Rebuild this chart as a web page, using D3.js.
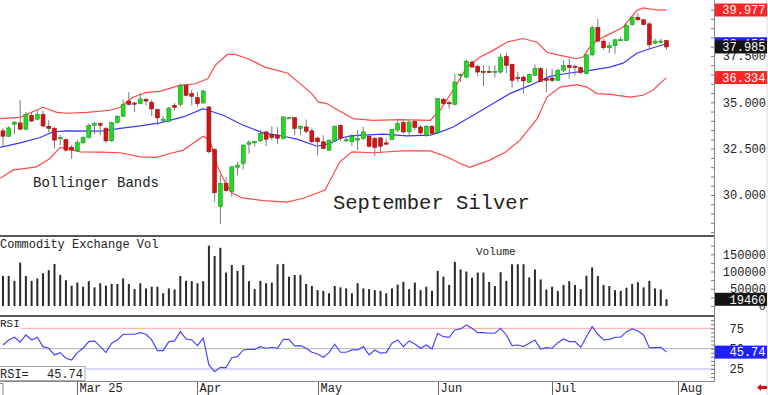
<!DOCTYPE html>
<html><head><meta charset="utf-8">
<script src="https://cdn.jsdelivr.net/npm/d3@7"></script>
<style>
body{margin:0;background:#fff;}
svg{display:block;}
text{font-family:"Liberation Mono","DejaVu Sans Mono",monospace;fill:#222;}
</style>
</head><body>
<svg id="chart" width="768" height="395"></svg>
<script>
// ---- data ----
const openP  = [33.46,33.17,33.82,33.89,33.55,34.30,34.09,34.35,33.71,33.59,33.03,32.99,32.58,32.38,32.81,33.10,33.76,33.85,33.59,32.92,
33.91,34.25,35.07,34.96,34.93,35.16,35.00,34.61,34.08,33.98,34.84,34.89,35.91,35.47,35.25,34.96,34.75,32.46,29.37,30.63,
30.18,31.49,31.70,32.74,32.81,32.92,33.40,33.26,33.24,33.05,34.14,34.18,33.59,33.67,33.46,33.07,32.87,32.42,32.92,33.76,
32.94,32.87,32.96,33.05,33.17,33.05,33.08,32.81,32.99,33.50,33.91,33.40,33.98,33.67,33.23,33.71,33.35,35.16,34.98,34.89,
36.45,36.36,37.17,36.94,36.67,36.67,36.66,36.63,37.47,37.04,36.34,36.36,36.09,36.45,36.81,36.27,36.31,36.18,36.72,36.99,
36.94,36.87,36.54,37.56,39.05,38.30,37.94,38.06,38.36,38.33,39.19,39.59,39.45,39.23,38.19,38.28,38.33];
const highP  = [33.60,33.71,33.98,35.11,34.48,34.48,34.57,34.57,34.03,33.67,33.23,33.05,32.69,32.99,33.17,33.85,33.94,33.94,33.67,33.94,
34.30,35.14,35.55,35.02,35.52,35.23,35.14,34.66,34.25,34.75,34.96,36.00,36.00,35.68,35.55,35.68,34.79,32.51,31.08,30.98,
31.56,31.79,32.74,32.96,32.92,33.50,33.46,33.71,33.67,34.25,34.21,34.21,33.76,34.07,33.59,33.13,33.23,32.99,33.75,33.80,
33.13,33.26,33.50,33.67,33.28,33.13,33.13,33.05,33.56,34.03,34.12,34.03,34.03,33.76,33.76,33.76,35.23,35.25,35.11,36.54,
36.57,37.30,37.26,37.04,36.99,36.99,36.99,37.62,37.65,37.08,36.63,36.45,36.54,37.04,36.90,36.81,36.81,36.81,37.26,37.35,
37.04,36.94,37.62,39.14,39.50,38.42,38.24,38.42,38.55,39.23,39.68,39.80,39.50,39.32,38.42,38.42,38.37];
const lowP   = [32.63,33.12,33.28,33.50,33.50,33.94,34.03,33.66,33.39,32.51,32.69,32.33,31.95,32.33,32.78,33.05,33.28,33.23,32.81,32.87,
33.85,34.21,34.84,34.48,34.89,34.84,34.25,33.76,33.98,33.94,34.57,34.78,35.32,34.84,34.78,34.93,32.24,29.64,28.44,30.18,
29.91,31.08,31.38,32.24,32.63,32.87,32.63,32.96,32.74,32.99,34.12,33.23,33.23,33.32,32.78,32.15,32.46,32.38,32.87,32.90,
32.87,32.63,32.42,32.96,32.56,32.10,32.24,32.69,32.96,33.40,33.32,33.23,33.50,33.26,33.13,33.23,33.28,34.84,34.66,34.84,
36.09,36.28,36.87,36.40,35.86,36.60,36.36,36.54,36.57,35.79,36.09,35.47,36.04,36.40,36.09,35.55,36.09,36.15,36.63,36.27,
36.45,36.51,36.51,37.47,38.24,37.83,37.65,37.62,38.30,38.30,39.14,39.37,39.14,37.83,38.12,38.16,37.83];
const closeP = [33.17,33.62,33.93,33.55,34.35,33.99,34.35,33.72,33.59,32.96,33.10,32.42,32.42,32.83,33.10,33.76,33.85,33.76,32.92,33.91,
34.25,34.88,34.88,34.93,35.18,35.07,34.64,34.16,34.09,34.69,34.73,35.91,35.38,35.32,34.93,35.61,32.33,30.12,30.63,30.23,
31.52,31.61,32.69,32.85,32.89,33.32,33.01,33.10,33.06,34.21,34.18,33.59,33.71,33.44,32.87,32.87,32.51,32.96,33.71,33.07,
32.98,33.17,33.05,33.40,32.63,32.56,32.63,32.74,33.53,33.85,33.40,33.94,33.64,33.35,33.71,33.32,35.20,34.93,34.93,36.09,
36.50,37.22,36.90,36.63,36.66,36.63,36.67,37.44,36.99,36.18,36.33,36.15,36.51,36.81,36.13,36.18,36.18,36.72,36.99,36.87,
36.90,36.60,37.56,39.02,38.30,37.94,38.06,38.37,38.38,39.14,39.59,39.45,39.19,38.10,38.30,38.30,37.985];
const volume = [87000,87000,73000,126000,87000,73000,80000,95000,104000,122000,90000,75000,59000,68000,56000,72000,54000,66000,59000,64000,
64000,80000,64000,49000,66000,51000,56000,56000,37000,51000,48000,87000,73000,72000,66000,72000,175000,145000,169000,97000,
119000,102000,119000,72000,49000,73000,66000,68000,121000,122000,85000,90000,90000,64000,58000,46000,44000,37000,58000,54000,
51000,37000,66000,51000,49000,46000,44000,37000,51000,62000,70000,49000,68000,46000,56000,44000,102000,85000,61000,128000,
106000,100000,82000,97000,97000,70000,58000,98000,73000,121000,121000,121000,83000,106000,77000,48000,56000,44000,61000,72000,
61000,49000,88000,112000,87000,61000,58000,46000,44000,53000,64000,69000,54000,73000,51000,48000,19460];
const rsi = [54.5,60.7,64,57.9,66.8,60.7,64,52.5,50.5,42.3,45.1,38.2,36.1,45.1,50.5,58.6,59.5,52.5,45.1,56.6,
60.7,67.7,67.7,67.7,69.7,67.7,60.7,47.5,47.5,58.6,59.5,70.9,61.9,60.7,53.7,62.8,30,21.7,27.1,26.7,
38.9,40.2,48.4,49.2,49.2,52.5,50.5,51.7,50.5,61.5,61.5,53.3,53.7,50.5,45.6,43.5,39.4,45.1,55.4,45.6,
45.6,48.4,48.4,52.5,42.3,48.4,44.5,45.1,56.6,60.7,52.5,59.5,55.8,50.5,54.5,49.6,68.9,64.7,64,73,
74.2,79.1,75,69.7,69.7,68.9,68.9,75,66.8,53.7,54.5,52.5,56.6,60.7,49.6,51.2,50.5,57.4,61.9,58.6,
58.6,51.7,64.7,77,67.7,60.7,61.5,64,64,70.9,74.2,71.7,66.8,51.2,51.2,51.7,45.74];
// Bollinger bands as [bar index, value] points
const upperBand = [[-0.5,34.12],[3,34.19],[7,34.73],[9.4,34.46],[11.2,34.41],[14.7,34.46],[18.7,34.57],[20.5,34.73],[22.7,35.27],[25.2,35.54],
[27.4,35.59],[30.9,35.91],[33.6,36.00],[35.8,36.27],[37.1,36.99],[39.2,37.58],[40.6,37.58],[42.8,37.35],[45.8,36.90],[49.8,36.57],
[51.6,36.09],[54.0,35.47],[55.1,35.02],[56.6,34.93],[58.9,34.52],[61.2,34.12],[64.7,34.03],[69.4,34.07],[74.7,34.03],[76.4,34.57],
[78.7,35.65],[81.1,36.90],[83.4,37.44],[85.7,37.80],[88.1,38.24],[90.9,38.44],[93.4,38.24],[95.1,37.70],[97.4,37.53],[100.3,37.35],
[101.4,37.44],[102.6,37.97],[103.8,38.33],[106.1,38.69],[108.4,39.05],[110.8,39.95],[111.9,40.09],[114.3,39.98],[116,39.977]];
const middleBand = [[-0.5,32.57],[3,32.81],[6.5,33.10],[8.7,33.40],[11.2,33.46],[17,33.44],[20.5,33.59],[24,33.73],[27.4,33.89],[31.5,34.21],
[35,34.66],[35.8,34.57],[38.5,34.30],[42,33.76],[45.5,33.35],[49,33.17],[51.4,33.01],[54.9,32.63],[57.2,32.78],[58.9,33.05],
[60.7,33.19],[66.4,33.28],[70.6,33.19],[74.7,33.23],[76.4,33.39],[78.7,33.67],[82.2,34.30],[85.7,34.93],[88.6,35.47],[92.1,35.91],
[95.6,36.40],[99.1,36.58],[102.6,36.72],[106.1,36.90],[108.4,37.11],[110.8,37.65],[113.1,37.89],[116,38.158]];
const lowerBand = [[-0.5,30.90],[1.7,31.34],[5.9,31.52],[8.2,31.97],[10,32.57],[11.2,32.51],[13.5,32.33],[17,32.31],[20.5,32.28],[24,32.06],
[26.9,32.03],[29.2,32.24],[31.5,32.42],[35,33.17],[36.2,32.96],[37.4,31.61],[38.8,30.70],[40,30.12],[41.8,29.84],[45.5,29.70],
[49.7,29.62],[52.6,29.84],[56.3,30.27],[58.9,31.79],[61,32.33],[64.7,32.28],[69.9,32.38],[74.7,32.38],[77.6,32.06],[79.9,31.70],
[81.6,31.49],[85.1,31.88],[87.8,32.31],[90.4,32.96],[93.4,34.12],[95.1,35.28],[97.4,35.82],[100.3,35.95],[102.1,35.82],[103.8,35.47],
[106.1,35.43],[109.6,35.28],[111.9,35.38],[113.6,35.65],[116,36.334]];
const monthIdx = [13,34,55,76,96,118];
const monthLabels = ["Mar 25","Apr","May","Jun","Jul","Aug"];
const priceTicks = [30,32.5,35,37.5];
const volTicks = [0,50000,100000,150000];
const rsiTicks = [25,50,75];

// ---- layout ----
const svg = d3.select("#chart");
const plotR = 714;
const x = d3.scaleLinear().domain([0,116]).range([3,666.5]);
const yP = d3.scaleLinear().domain([30,40]).range([195,9.6]);
const yV = d3.scaleLinear().domain([0,150000]).range([306,254.3]);
const yR = d3.scaleLinear().domain([25,75]).range([369,328.3]);

svg.append("defs").append("clipPath").attr("id","pc").append("rect")
  .attr("x",0).attr("y",0).attr("width",plotR).attr("height",235);

// right edge faint line
svg.append("line").attr("x1",767).attr("x2",767).attr("y1",0).attr("y2",395).attr("stroke","#ddd");

// ---- price panel ----
const pg = svg.append("g").attr("clip-path","url(#pc)");
const bandLine = d3.line().x(d=>x(d[0])).y(d=>yP(d[1]));
pg.append("path").datum(upperBand).attr("d",bandLine).attr("fill","none").attr("stroke","#ff4848").attr("stroke-width",1.2);
pg.append("path").datum(lowerBand).attr("d",bandLine).attr("fill","none").attr("stroke","#ff4848").attr("stroke-width",1.2);
pg.append("path").datum(middleBand).attr("d",bandLine).attr("fill","none").attr("stroke","#3838ff").attr("stroke-width",1.2);

const idx = d3.range(openP.length);
pg.selectAll(".wick").data(idx).join("line")
  .attr("x1",i=>x(i)).attr("x2",i=>x(i))
  .attr("y1",i=>yP(highP[i])).attr("y2",i=>yP(lowP[i]))
  .attr("stroke","#7a7a7a").attr("stroke-width",1);
pg.selectAll(".body").data(idx).join("rect")
  .attr("x",i=>x(i)-2).attr("width",4)
  .attr("y",i=>yP(Math.max(openP[i],closeP[i])))
  .attr("height",i=>Math.max(1.2,Math.abs(yP(openP[i])-yP(closeP[i]))))
  .attr("fill",i=>closeP[i]>=openP[i]?"#22d822":"#d41414")
  .attr("stroke",i=>closeP[i]>=openP[i]?"#0f8a0f":"#8a0a0a").attr("stroke-width",0.5);

svg.append("text").attr("x",33).attr("y",187).attr("font-size",14).text("Bollinger Bands");
svg.append("text").attr("x",333).attr("y",209).attr("font-size",20.5).text("September Silver");

// price axis ticks
const pax = svg.append("g").attr("transform",`translate(${plotR},0)`)
  .call(d3.axisLeft(yP).tickValues(d3.range(28,40.01,0.5)).tickSize(3).tickFormat(""));
pax.select(".domain").remove();
pax.selectAll("line").attr("stroke","#777");

// ---- volume panel ----
svg.selectAll(".vbar").data(idx).join("rect")
  .attr("x",i=>x(i)-1).attr("width",2)
  .attr("y",i=>yV(volume[i])).attr("height",i=>yV(0)-yV(volume[i]))
  .attr("fill","#2a2a2a");
svg.append("text").attr("x",0).attr("y",248).attr("font-size",12).text("Commodity Exchange Vol");
svg.append("text").attr("x",476).attr("y",255).attr("font-size",11).text("Volume");
const vax = svg.append("g").attr("transform",`translate(${plotR},0)`)
  .call(d3.axisLeft(yV).tickValues(d3.range(0,175001,25000)).tickSize(3).tickFormat(""));
vax.select(".domain").remove();
vax.selectAll("line").attr("stroke","#777");

// ---- RSI panel ----
svg.append("line").attr("x1",0).attr("x2",plotR).attr("y1",yR(75)).attr("y2",yR(75)).attr("stroke","#f6a6a6");
svg.append("line").attr("x1",0).attr("x2",plotR).attr("y1",yR(50)).attr("y2",yR(50)).attr("stroke","#b4b4b4");
svg.append("line").attr("x1",0).attr("x2",plotR).attr("y1",yR(25)).attr("y2",yR(25)).attr("stroke","#b0b4f4");
svg.append("path").datum(rsi).attr("d",d3.line().x((d,i)=>x(i)).y(d=>yR(d)))
  .attr("fill","none").attr("stroke","#4646ff").attr("stroke-width",1.2);
svg.append("rect").attr("x",0).attr("y",318).attr("width",21).attr("height",12).attr("fill","#fff");
svg.append("text").attr("x",0).attr("y",327).attr("font-size",11).text("RSI");
svg.append("rect").attr("x",-1).attr("y",366.5).attr("width",86).attr("height",14).attr("fill","#fff").attr("stroke","#aaa");
svg.append("text").attr("x",0).attr("y",378).attr("font-size",12).attr("xml:space","preserve").text("RSI=  ");
svg.append("text").attr("x",83).attr("y",378).attr("font-size",12).attr("text-anchor","end").text(d3.format(".2f")(rsi[rsi.length-1]));
const rax = svg.append("g").attr("transform",`translate(${plotR},0)`)
  .call(d3.axisLeft(yR).tickValues(d3.range(15,90,5)).tickSize(3).tickFormat(""));
rax.select(".domain").remove();
rax.selectAll("line").attr("stroke","#777");

// ---- panel frames ----
svg.append("line").attr("x1",0).attr("x2",715).attr("y1",236).attr("y2",236).attr("stroke","#555").attr("stroke-width",2);
svg.append("line").attr("x1",0).attr("x2",715).attr("y1",316).attr("y2",316).attr("stroke","#555").attr("stroke-width",2);
svg.append("line").attr("x1",0).attr("x2",715).attr("y1",381.5).attr("y2",381.5).attr("stroke","#888").attr("stroke-width",1);
svg.append("line").attr("x1",plotR+0.5).attr("x2",plotR+0.5).attr("y1",0).attr("y2",382).attr("stroke","#888").attr("stroke-width",1);

// ---- x axis ----
monthIdx.forEach((m,k)=>{
  const px = Math.round(x(m))+0.5;
  svg.append("line").attr("x1",px).attr("x2",px).attr("y1",382).attr("y2",395).attr("stroke","#666");
  svg.append("text").attr("x",px+2).attr("y",392).attr("font-size",12).text(monthLabels[k]);
});
svg.append("rect").attr("x",-4).attr("y",383.5).attr("width",7).attr("height",13).attr("fill","none").attr("stroke","#888");
svg.append("path").attr("d","M757,387.5 L761,384 L761,386 L767,386 L767,389 L761,389 L761,391 Z").attr("fill","#e01010");

// ---- right axis labels ----
const fmtP = d3.format(".3f");
priceTicks.forEach(v=>{
  svg.append("text").attr("x",766).attr("y",yP(v)).attr("dy","0.35em").attr("font-size",12)
    .attr("text-anchor","end").text(fmtP(v));
});
volTicks.forEach(v=>{
  svg.append("text").attr("x",766).attr("y",yV(v)).attr("dy","0.35em").attr("font-size",12)
    .attr("text-anchor","end").text(v);
});
rsiTicks.forEach(v=>{
  svg.append("text").attr("x",744).attr("y",yR(v)).attr("dy","0.35em").attr("font-size",12)
    .attr("text-anchor","end").text(v);
});

function valueBox(yc, txt, bg){
  svg.append("rect").attr("x",715).attr("y",yc-6.5).attr("width",52).attr("height",13).attr("fill",bg);
  svg.append("text").attr("x",765.5).attr("y",yc).attr("dy","0.36em").attr("font-size",12)
    .attr("text-anchor","end").style("fill","#fff").text(txt);
}
const lastU = upperBand[upperBand.length-1][1], lastM = middleBand[middleBand.length-1][1], lastL = lowerBand[lowerBand.length-1][1];
valueBox(yP(lastU), fmtP(lastU), "#ff2424");
valueBox(yP(lastM), fmtP(lastM), "#2020ff");
valueBox(yP(closeP[closeP.length-1]), fmtP(closeP[closeP.length-1]), "#141414");
valueBox(yP(lastL), fmtP(lastL), "#ff2424");
valueBox(yV(volume[volume.length-1]), String(volume[volume.length-1]), "#141414");
valueBox(yR(rsi[rsi.length-1]), d3.format(".2f")(rsi[rsi.length-1]), "#2020ff");
</script>
</body></html>
